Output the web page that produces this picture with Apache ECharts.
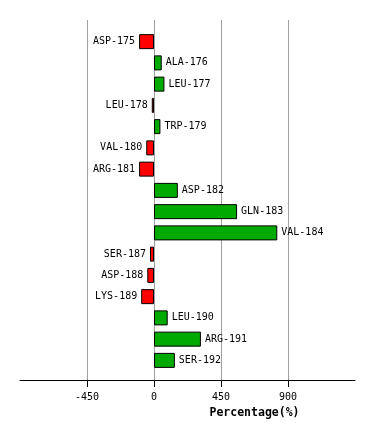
<!DOCTYPE html>
<html><head><meta charset="utf-8">
<script src="https://cdn.jsdelivr.net/npm/echarts@6/dist/echarts.min.js"></script>
<style>html,body{margin:0;padding:0;background:#fff}#c{width:374px;height:440px}</style>
</head><body><div id="c"></div>
<script>
const residues = ['ASP-175','ALA-176','LEU-177','LEU-178','TRP-179','VAL-180','ARG-181','ASP-182','GLN-183','VAL-184','SER-187','ASP-188','LYS-189','LEU-190','ARG-191','SER-192'];
const percentages = [-100, 52, 70, -15, 43, -52, -100, 160, 558, 828, -27, -45, -86, 92, 315, 140];
const tickValues = [-450, 0, 450, 900];
const axisMin = -900, axisMax = 1350, axisStep = 450;

const font = '"DejaVu Sans Mono", monospace';
const chart = echarts.init(document.getElementById('c'), null, {renderer: 'canvas'});
chart.setOption({
  animation: false,
  backgroundColor: '#fff',
  grid: [
    {left: 20, right: 19, top: 20, bottom: 60},
    {left: 20, right: 19, top: 31, bottom: 69}
  ],
  xAxis: [
    {
      gridIndex: 0, type: 'value', min: axisMin, max: axisMax, interval: axisStep,
      name: 'Percentage(%)', nameLocation: 'middle', nameGap: 27,
      nameTextStyle: {fontFamily: font, fontWeight: 'bold', fontSize: 11.5, color: '#000', padding: [0, 0, 0, 134]},
      axisLine: {show: true, onZero: false, lineStyle: {color: '#000', width: 1}},
      axisTick: {show: true, length: 7, lineStyle: {color: '#000'}, customValues: tickValues},
      axisLabel: {fontFamily: font, fontSize: 10, color: '#000', margin: 12, customValues: tickValues},
      splitLine: {show: true, lineStyle: {color: '#a0a0a0', width: 1}}
    },
    {gridIndex: 1, type: 'value', min: axisMin, max: axisMax, show: false}
  ],
  yAxis: [
    {gridIndex: 0, type: 'value', min: 0, max: 1, show: false},
    {gridIndex: 1, type: 'category', data: residues, inverse: true, show: false}
  ],
  series: [{
    type: 'bar', xAxisIndex: 1, yAxisIndex: 1, barWidth: 15,
    data: percentages.map(v => ({
      value: v,
      itemStyle: {color: v < 0 ? '#ff0000' : '#00aa00', borderColor: '#000', borderWidth: 1},
      label: {position: v < 0 ? 'left' : 'right'}
    })),
    label: {show: true, formatter: '{b}', fontFamily: font, fontSize: 10, color: '#000', distance: 4}
  }]
});
</script></body></html>
